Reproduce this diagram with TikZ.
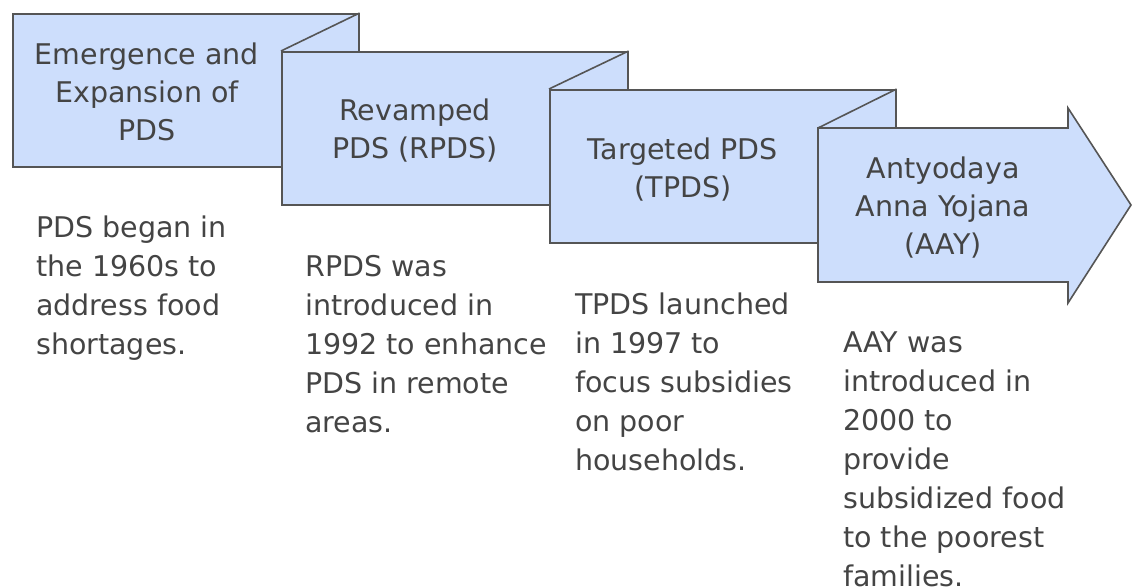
\documentclass[tikz,border=0pt]{standalone}
\usepackage{fontspec}
\setmainfont{DejaVu Sans}
\definecolor{stagefill}{HTML}{CDDEFC}
\definecolor{stageline}{HTML}{555555}
\definecolor{inktext}{HTML}{444444}

\begin{document}
\begin{tikzpicture}[x=1pt,y=-1pt,
  stage/.style={rectangle,draw=stageline,fill=stagefill,line width=1.6pt,minimum width=346pt,minimum height=153pt,inner sep=0pt,anchor=north west},
  fold/.style={draw=stageline,line width=1.6pt},
  title/.style={text=inktext,font=\fontsize{28.5}{38}\selectfont,align=center,inner sep=0pt},
  note/.style={text=inktext,font=\fontsize{28.5}{39}\selectfont,align=left,inner sep=0pt,anchor=north west}]
\useasboundingbox (0,0) rectangle (1132,587);

\node[stage] at (12,13)  (b1) {};
\node[stage] at (281,51) (b2) {};
\draw[fold] (b2.north west) -- (b1.north east);
\node[stage] at (549,89) (b3) {};
\draw[fold] (b3.north west) -- (b2.north east);
\coordinate (b4) at (818,128);
\draw[fold,fill=stagefill] (b4) -- ++(250,0) -- ++(0,-20) -- (1131,205) -- (1068,303) -- ++(0,-21) -- (818,282) -- cycle;
\draw[fold] (b4) -- (b3.north east);

\node[title] at (147,92)  (t1) {Emergence and\\Expansion of\\PDS};
\node[title] at (415,131) (t2) {Revamped\\PDS (RPDS)};
\node[title] at (683,170) (t3) {Targeted PDS\\(TPDS)};
\node[title] at (943,208) (t4) {Antyodaya\\Anna Yojana\\(AAY)};

\node[note] at (36,216)  (n1) {PDS began in\\the 1960s to\\address food\\shortages.};
\node[note] at (305,255) (n2) {RPDS was\\introduced in\\1992 to enhance\\PDS in remote\\areas.};
\node[note] at (575,293) (n3) {TPDS launched\\in 1997 to\\focus subsidies\\on poor\\households.};
\node[note] at (843,332) (n4) {AAY was\\introduced in\\2000 to\\provide\\subsidized food\\to the poorest\\families.};
\end{tikzpicture}
\end{document}
